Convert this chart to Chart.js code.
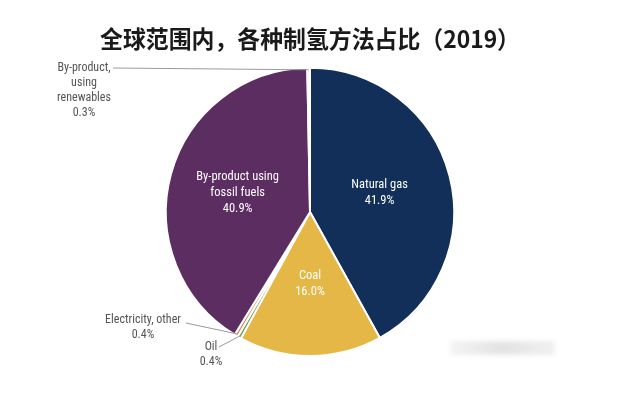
<!DOCTYPE html>
<html>
<head>
<meta charset="utf-8">
<script src="https://cdn.jsdelivr.net/npm/chart.js@4/dist/chart.umd.min.js"></script>
<style>
  html, body { margin: 0; padding: 0; background: #fff; }
  #wrap { position: relative; width: 618px; height: 393px; }
  #smudge { position: absolute; left: 450px; top: 341px; width: 105px; height: 14px;
            background: linear-gradient(90deg, #f0f0f0, #d8d8d8 50%, #ebebeb); filter: blur(2px); opacity: .7; }
</style>
</head>
<body>
<div id="wrap">
  <canvas id="chart" width="618" height="393"></canvas>
  <div id="smudge"></div>
</div>
<script>
// 数据
const categories = ['Natural gas', 'Coal', 'Oil', 'Electricity, other', 'By-product using fossil fuels', 'By-product, using renewables'];
const shares = [41.9, 16.0, 0.4, 0.4, 40.9, 0.3];
const sliceColors = ['#112f58', '#e4b746', '#6f9c62', '#e08a5c', '#5c2d61', '#f2f2f2'];

// 标签文字 (每个扇区)
const labelLines = [
    ['Natural gas', '41.9%'],
    ['Coal', '16.0%'],
    ['Oil', '0.4%'],
    ['Electricity, other', '0.4%'],
    ['By-product using', 'fossil fuels', '40.9%'],
    ['By-product,', 'using', 'renewables', '0.3%']
];

const FONT = "'Liberation Sans Narrow', 'Arial Narrow', 'Roboto Condensed', sans-serif";

// 扇区内部标签: 角度(度, 从12点顺时针) + 半径比例
const insideLabels = {
    0: { angle: 75, r: 0.5 },
    1: { angle: 180, r: 0.5 },
    4: { angle: 285, r: 0.52 }
};
// 外部标签: 文字中心位置 + 引线拐点
const outsideLabels = {
    5: { tx: 84, ty: 68, lead: [[113, 68]] },
    3: { tx: 143, ty: 320, lead: [[186, 323]] },
    2: { tx: 211, ty: 347, lead: [[219, 347]] }
};

const pieLabels = {
    id: 'pieLabels',
    afterDatasetsDraw(chart) {
        const ctx = chart.ctx;
        const arcs = chart.getDatasetMeta(0).data;
        ctx.save();
        ctx.textAlign = 'center';
        ctx.textBaseline = 'middle';
        arcs.forEach((arc, i) => {
            const lines = labelLines[i];
            if (insideLabels[i]) {
                const p = insideLabels[i];
                const a = p.angle * Math.PI / 180;
                const cx = arc.x + Math.sin(a) * arc.outerRadius * p.r;
                const cy = arc.y - Math.cos(a) * arc.outerRadius * p.r;
                ctx.fillStyle = '#ffffff';
                ctx.font = '12.5px ' + FONT;
                const lh = 16;
                lines.forEach((t, k) => {
                    ctx.fillText(t, cx, cy + (k - (lines.length - 1) / 2) * lh);
                });
            } else if (outsideLabels[i]) {
                const o = outsideLabels[i];
                const mid = (arc.startAngle + arc.endAngle) / 2;
                const ex = arc.x + Math.cos(mid) * (arc.outerRadius - 2);
                const ey = arc.y + Math.sin(mid) * (arc.outerRadius - 2);
                ctx.strokeStyle = '#9a9a9a';
                ctx.lineWidth = 1;
                ctx.beginPath();
                ctx.moveTo(ex, ey);
                o.lead.forEach(pt => ctx.lineTo(pt[0], pt[1]));
                ctx.stroke();
                ctx.fillStyle = '#555555';
                ctx.font = '12px ' + FONT;
                const lh = 15;
                lines.forEach((t, k) => {
                    ctx.fillText(t, o.tx, o.ty + k * lh);
                });
            }
        });
        ctx.restore();
    }
};

new Chart(document.getElementById('chart').getContext('2d'), {
    type: 'pie',
    data: {
        labels: categories,
        datasets: [{
            data: shares,
            backgroundColor: sliceColors,
            borderColor: '#ffffff',
            borderWidth: 2
        }]
    },
    options: {
        responsive: false,
        animation: false,
        layout: { padding: { top: 0, bottom: 36, left: 100, right: 98 } },
        plugins: {
            legend: { display: false },
            tooltip: { enabled: false },
            title: {
                display: true,
                text: '全球范围内，各种制氢方法占比（2019）',
                color: '#1a1a1a',
                font: { family: "'Noto Sans CJK SC', sans-serif", size: 24, weight: 'bold', lineHeight: 1.2 },
                padding: { top: 24, bottom: 14 }
            }
        }
    },
    plugins: [pieLabels]
});
</script>
</body>
</html>
